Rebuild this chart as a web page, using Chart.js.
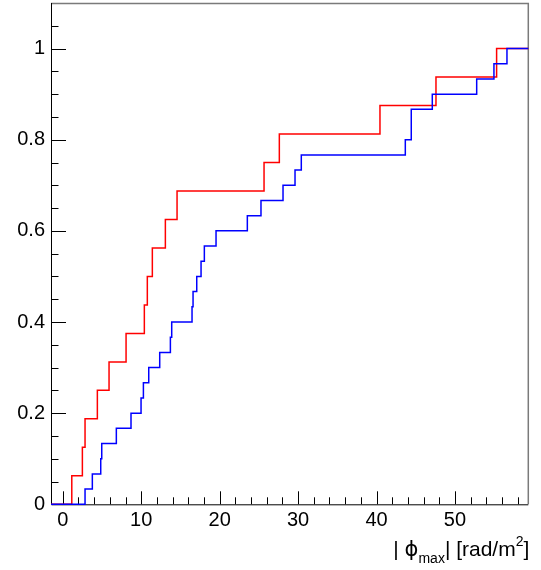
<!DOCTYPE html>
<html>
<head>
<meta charset="utf-8">
<script src="https://cdn.jsdelivr.net/npm/chart.js@4"></script>
<style>
  html, body { margin: 0; padding: 0; background: #fff; }
  #wrap { width: 541px; height: 570px; position: relative; }
</style>
</head>
<body>
<div id="wrap"><canvas id="cdfChart"></canvas></div>
<script>
// axis ranges and ticks
const xMin = -1.5;
const xMax = 59.35;
const yMin = 0;
const yMax = 1.1;
const xTicks = [0, 10, 20, 30, 40, 50];
const yTicks = [0, 0.2, 0.4, 0.6, 0.8, 1];
const yTickLabels = ["0", "0.2", "0.4", "0.6", "0.8", "1"];

// red sample: step positions and cumulative level after each step
const redX = [1.15, 2.50, 2.84, 4.41, 5.90, 8.07, 10.40, 10.78, 11.42, 13.08, 14.57, 25.66, 27.61, 40.44, 47.58, 55.31];
const redY = [0.0625, 0.125, 0.1875, 0.25, 0.3125, 0.375, 0.4375, 0.5, 0.5625, 0.625, 0.6875, 0.75, 0.8125, 0.875, 0.9375, 1];

// blue sample
const blueX = [2.84, 3.77, 4.84, 4.97, 6.83, 8.70, 9.98, 10.28, 10.96, 12.36, 13.72, 13.89, 16.48, 16.61, 17.08,
  17.63, 18.05, 19.54, 23.53, 25.27, 28.08, 29.61, 30.41, 43.67, 44.43, 44.43, 47.11, 52.77, 54.97, 56.63];
const blueY = [0.0333, 0.0667, 0.1, 0.1333, 0.1667, 0.2, 0.2333, 0.2667, 0.3, 0.3333, 0.3667, 0.4, 0.4333, 0.4667, 0.5,
  0.5333, 0.5667, 0.6, 0.6333, 0.6667, 0.7, 0.7333, 0.7667, 0.8, 0.8333, 0.8667, 0.9, 0.9333, 0.9667, 1];

function stepPoints(xs, ys) {
  const pts = [{ x: xMin, y: 0 }];
  xs.forEach((v, i) => pts.push({ x: v, y: ys[i] }));
  pts.push({ x: xMax, y: ys[ys.length - 1] });
  return pts;
}

// frame + inward ROOT style ticks
const frameTicks = {
  id: "frameTicks",
  beforeDatasetsDraw(chart) {
    const { ctx, chartArea: a, scales } = chart;
    const xs = scales.x, ys = scales.y;
    ctx.save();
    ctx.lineWidth = 1;
    ctx.strokeStyle = "#000";
    // x ticks
    ctx.beginPath();
    for (let v = 0; v <= xMax; v += 2) {
      const px = Math.round(xs.getPixelForValue(v)) + 0.5;
      const len = v % 10 === 0 ? 13 : 7;
      ctx.moveTo(px, a.bottom);
      ctx.lineTo(px, a.bottom - len);
    }
    // y ticks
    for (let i = 0; i * 0.05 <= yMax + 1e-9; i++) {
      const v = i * 0.05;
      const py = Math.round(ys.getPixelForValue(v)) + 0.5;
      const len = i % 4 === 0 ? 15 : 7.5;
      ctx.moveTo(a.left, py);
      ctx.lineTo(a.left + len, py);
    }
    ctx.stroke();
    // frame
    ctx.strokeStyle = "#7a7a7a";
    ctx.lineWidth = 1.5;
    ctx.beginPath();
    ctx.moveTo(a.left, a.top + 0.5);
    ctx.lineTo(a.right, a.top + 0.5);
    ctx.lineTo(a.right, a.bottom);
    ctx.stroke();
    ctx.strokeStyle = "#000";
    ctx.lineWidth = 1;
    ctx.beginPath();
    ctx.moveTo(a.left + 0.5, a.top);
    ctx.lineTo(a.left + 0.5, a.bottom + 0.5);
    ctx.lineTo(a.right, a.bottom + 0.5);
    ctx.stroke();
    ctx.restore();
  },
  afterDraw(chart) {
    // axis title | phi_max | [rad/m^2]
    const { ctx, chartArea: a } = chart;
    const big = "21px 'Liberation Sans', Arial, sans-serif";
    const phi = "21px 'DejaVu Sans', sans-serif";
    const small = "14px 'Liberation Sans', Arial, sans-serif";
    const base = 556;
    const parts = [
      { t: "| ", f: big, dy: 0 },
      { t: "\u03d5", f: phi, dy: 0 },
      { t: "max", f: small, dy: 7 },
      { t: "| [rad/m", f: big, dy: 0 },
      { t: "2", f: small, dy: -10 },
      { t: "]", f: big, dy: 0 }
    ];
    ctx.save();
    ctx.fillStyle = "#000";
    ctx.textBaseline = "alphabetic";
    let total = 0;
    parts.forEach(p => { ctx.font = p.f; p.w = ctx.measureText(p.t).width; total += p.w; });
    let x = a.right + 1 - total;
    parts.forEach(p => { ctx.font = p.f; ctx.fillText(p.t, x, base + p.dy); x += p.w; });
    ctx.restore();
  }
};

new Chart(document.getElementById("cdfChart").getContext("2d"), {
  type: "line",
  data: {
    datasets: [
      {
        label: "blue",
        data: stepPoints(blueX, blueY),
        borderColor: "#0000ff",
        borderWidth: 1.5,
        stepped: "before",
        pointRadius: 0,
        fill: false,
        clip: 3,
        order: 1,
      },
      {
        label: "red",
        data: stepPoints(redX, redY),
        borderColor: "#ff0000",
        borderWidth: 1.5,
        stepped: "before",
        pointRadius: 0,
        fill: false,
        clip: 3,
        order: 2,
      },
    ],
  },
  options: {
    responsive: true,
    maintainAspectRatio: false,
    animation: false,
    layout: { padding: { left: 0, right: 12.7, top: 3, bottom: 0 } },
    plugins: { legend: { display: false }, tooltip: { enabled: false } },
    scales: {
      x: {
        type: "linear",
        min: xMin,
        max: xMax,
        border: { display: false },
        grid: { display: false, drawTicks: false, tickLength: 0 },
        afterBuildTicks: s => { s.ticks = xTicks.map(v => ({ value: v })); },
        afterFit: s => { s.height = 65.7; s.paddingLeft = 0; s.paddingRight = 0; },
        ticks: {
          padding: 4,
          maxRotation: 0,
          color: "#000",
          font: { family: "'Liberation Sans', Arial, sans-serif", size: 20 },
          callback: v => String(v),
        },
      },
      y: {
        type: "linear",
        min: yMin,
        max: yMax,
        border: { display: false },
        grid: { display: false, drawTicks: false, tickLength: 0 },
        afterBuildTicks: s => { s.ticks = yTicks.map(v => ({ value: v })); },
        afterFit: s => { s.width = 51; s.paddingTop = 0; s.paddingBottom = 0; },
        ticks: {
          padding: 6,
          color: "#000",
          font: { family: "'Liberation Sans', Arial, sans-serif", size: 20 },
          callback: (v, i) => yTickLabels[i],
        },
      },
    },
  },
  plugins: [frameTicks],
});
</script>
</body>
</html>
